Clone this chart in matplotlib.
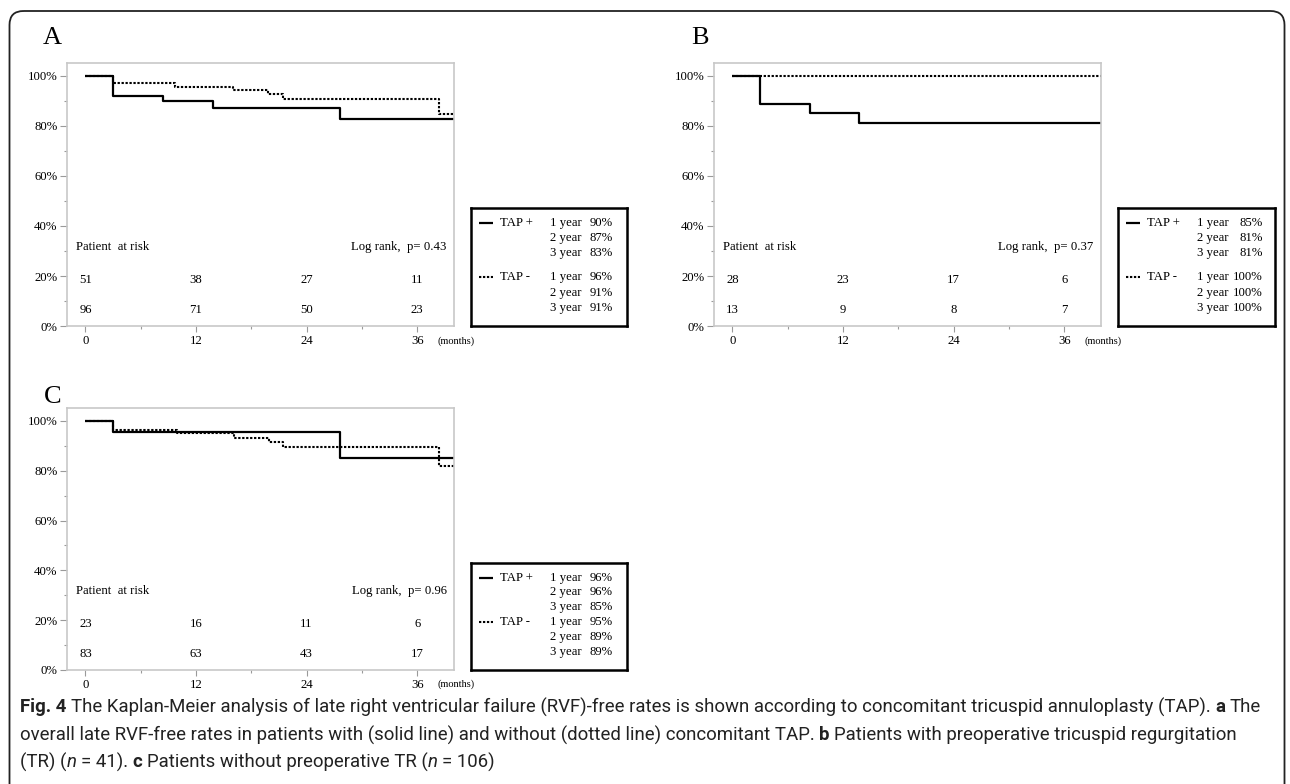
import matplotlib
matplotlib.use("Agg")
import matplotlib.pyplot as plt
from matplotlib.patches import FancyBboxPatch

W, H = 1290, 784
plt.rcParams["font.family"] = ["Liberation Serif", "DejaVu Serif"]

# survival curves (months, % free of RVF)
a_tap_pos_t = [0, 3, 8.4, 13.8, 27.6]
a_tap_pos_s = [100, 92.1, 90.1, 87.3, 82.8]
a_tap_neg_t = [0, 3, 9.7, 16.0, 19.8, 21.4, 38.4]
a_tap_neg_s = [100, 97.1, 95.7, 94.4, 92.7, 90.8, 84.7]

b_tap_pos_t = [0, 3, 8.4, 13.7]
b_tap_pos_s = [100, 89.0, 85.1, 81.1]
b_tap_neg_t = [0]
b_tap_neg_s = [100]

c_tap_pos_t = [0, 3, 27.6]
c_tap_pos_s = [100, 95.6, 85.2]
c_tap_neg_t = [0, 3, 9.9, 16.1, 19.9, 21.4, 38.4]
c_tap_neg_s = [100, 96.5, 95.2, 93.3, 91.5, 89.6, 82.1]

risk_times = [0, 12, 24, 36]
a_risk_pos = [51, 38, 27, 11]
a_risk_neg = [96, 71, 50, 23]
b_risk_pos = [28, 23, 17, 6]
b_risk_neg = [13, 9, 8, 7]
c_risk_pos = [23, 16, 11, 6]
c_risk_neg = [83, 63, 43, 17]

a_pvalue = "0.43"
b_pvalue = "0.37"
c_pvalue = "0.96"

years = ["1 year", "2 year", "3 year"]
a_rates_pos = ["90%", "87%", "83%"]
a_rates_neg = ["96%", "91%", "91%"]
b_rates_pos = ["85%", "81%", "81%"]
b_rates_neg = ["100%", "100%", "100%"]
c_rates_pos = ["96%", "96%", "85%"]
c_rates_neg = ["95%", "89%", "89%"]

X_END = 40
SOLID = dict(color="black", lw=1.6, ls="-", solid_capstyle="butt")
DOTTED = dict(color="black", lw=1.5, ls=(0, (1.1, 0.8)))

fig = plt.figure(figsize=(W / 100, H / 100), dpi=100)

# background layer in pixel units: rounded frame + caption
bg = fig.add_axes([0, 0, 1, 1])
bg.set_xlim(0, W)
bg.set_ylim(H, 0)
bg.axis("off")
bg.add_patch(FancyBboxPatch((9.5, 11), 1275, 820, boxstyle="round,pad=0,rounding_size=14",
                            fill=False, lw=1.3, ec="#222222"))


def px_axes(x0, y0, x1, y1):
    return fig.add_axes([x0 / W, 1 - y1 / H, (x1 - x0) / W, (y1 - y0) / H])


def km_panel(box, pos_t, pos_s, neg_t, neg_s, risk_pos, risk_neg, pval, letter, letter_xy):
    ax = px_axes(*box)
    ax.step(neg_t + [X_END], neg_s + [neg_s[-1]], where="post", **DOTTED)
    ax.step(pos_t + [X_END], pos_s + [pos_s[-1]], where="post", **SOLID)
    ax.set_xlim(-2, X_END)
    ax.set_ylim(0, 105.2)
    ax.set_xticks(risk_times)
    ax.set_xticks([6, 18, 30], minor=True)
    ax.set_yticks([0, 20, 40, 60, 80, 100])
    ax.set_yticks([10, 30, 50, 70, 90], minor=True)
    ax.set_yticklabels(["0%", "20%", "40%", "60%", "80%", "100%"])
    for s in ax.spines.values():
        s.set_color("#c8c8c8")
        s.set_linewidth(1.2)
    ax.tick_params(axis="both", which="major", direction="out", color="#9a9a9a",
                   labelsize=9.2, width=0.8)
    ax.tick_params(axis="y", which="major", length=5, pad=2)
    ax.tick_params(axis="x", which="major", length=4.3, pad=2)
    ax.tick_params(axis="both", which="minor", direction="out", color="#9a9a9a",
                   length=2.3, width=0.8)
    ax.text(-1.0, 31.7, "Patient  at risk", fontsize=9.2, ha="left", va="center")
    ax.text(39.2, 31.7, "Log rank,  p= " + pval, fontsize=9.2, ha="right", va="center")
    for t, n1, n2 in zip(risk_times, risk_pos, risk_neg):
        ax.text(t, 18.5, str(n1), fontsize=9.2, ha="center", va="center")
        ax.text(t, 6.5, str(n2), fontsize=9.2, ha="center", va="center")
    ax.text(38.2, -0.056, "(months)", fontsize=7.5, ha="left", va="center",
            transform=ax.get_xaxis_transform())
    bg.text(letter_xy[0], letter_xy[1], letter, fontsize=19, ha="left", va="center")
    return ax


def legend_box(box, rows_pos, rows_neg, rates_pos, rates_neg, rate_x=142):
    lg = px_axes(*box)
    w, h = box[2] - box[0], box[3] - box[1]
    lg.set_xlim(0, w)
    lg.set_ylim(h, 0)
    lg.set_xticks([])
    lg.set_yticks([])
    for s in lg.spines.values():
        s.set_color("black")
        s.set_linewidth(1.8)
    for label, style, rows, rates in (("TAP +", SOLID, rows_pos, rates_pos),
                                      ("TAP -", DOTTED, rows_neg, rates_neg)):
        lg.plot([8, 22], [rows[0], rows[0]], **style)
        lg.text(29, rows[0], label, fontsize=9.2, ha="left", va="center")
        for y, yr, rate in zip(rows, years, rates):
            lg.text(79, y, yr, fontsize=9.2, ha="left", va="center")
            lg.text(rate_x, y, rate, fontsize=9.2, ha="right", va="center")


km_panel((67, 63, 454, 326), a_tap_pos_t, a_tap_pos_s, a_tap_neg_t, a_tap_neg_s,
         a_risk_pos, a_risk_neg, a_pvalue, "A", (43, 38))
km_panel((714, 63, 1101, 326), b_tap_pos_t, b_tap_pos_s, b_tap_neg_t, b_tap_neg_s,
         b_risk_pos, b_risk_neg, b_pvalue, "B", (691, 38))
km_panel((67, 408, 454, 670), c_tap_pos_t, c_tap_pos_s, c_tap_neg_t, c_tap_neg_s,
         c_risk_pos, c_risk_neg, c_pvalue, "C", (44, 397))

legend_box((471, 208, 627, 326), [15, 30, 45], [69, 85, 100], a_rates_pos, a_rates_neg)
legend_box((1118, 208, 1275, 326), [15, 30, 45], [69, 85, 100], b_rates_pos, b_rates_neg,
           rate_x=145)
legend_box((471, 563, 627, 670), [15, 29, 44], [59, 74, 89], c_rates_pos, c_rates_neg)

# caption with mixed bold / italic pieces
CAP_FONT = "Roboto"
CAP_SIZE = 13.45
renderer = fig.canvas.get_renderer()


def text_width(s, weight="normal", style="normal"):
    t = bg.text(0, 0, s, fontsize=CAP_SIZE, family=CAP_FONT, fontweight=weight, fontstyle=style)
    wd = t.get_window_extent(renderer=renderer).width
    t.remove()
    return wd


space_w = text_width("x x") - text_width("xx")


def rich_line(x, y, pieces):
    for s, weight, style in pieces:
        lead = len(s) - len(s.lstrip(" "))
        trail = len(s) - len(s.rstrip(" "))
        x += lead * space_w
        core = s.strip(" ")
        if core:
            t = bg.text(x, y, core, fontsize=CAP_SIZE, family=CAP_FONT, fontweight=weight,
                        fontstyle=style, ha="left", va="center", color="#222222")
            x += t.get_window_extent(renderer=renderer).width
        x += trail * space_w


N, B, I = "normal", "bold", "italic"
rich_line(20, 707, [("Fig. 4", B, N),
                    (" The Kaplan-Meier analysis of late right ventricular failure (RVF)-free rates "
                     "is shown according to concomitant tricuspid annuloplasty (TAP). ", N, N),
                    ("a", B, N), (" The", N, N)])
rich_line(20, 735, [("overall late RVF-free rates in patients with (solid line) and without "
                     "(dotted line) concomitant TAP. ", N, N),
                    ("b", B, N), (" Patients with preoperative tricuspid regurgitation", N, N)])
rich_line(20, 762, [("(TR) (", N, N), ("n", N, I), (" = 41). ", N, N), ("c", B, N),
                    (" Patients without preoperative TR (", N, N), ("n", N, I), (" = 106)", N, N)])

fig.savefig("out.png", dpi=100)
